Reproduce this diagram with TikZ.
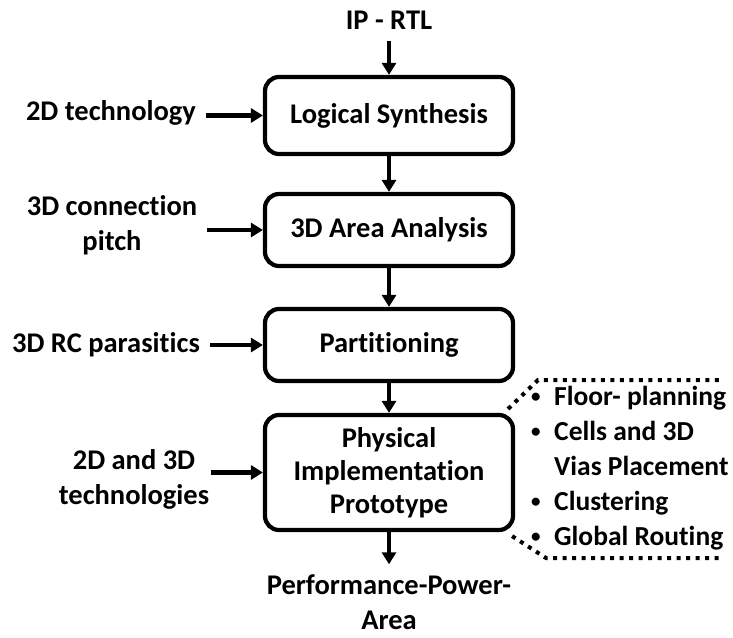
\documentclass[tikz,border=0pt]{standalone}
\usepackage{fontspec}
\setmainfont[Ligatures=NoCommon]{Carlito}
\usetikzlibrary{arrows.meta,calc}
\newcommand{\smallbul}{\makebox[25pt][l]{\hspace*{2pt}\raisebox{3pt}{\fontsize{19}{19}\selectfont\textbullet}}}
\begin{document}
\begin{tikzpicture}[x=1pt,y=-1pt,
  every node/.style={font=\bfseries\fontsize{28.5}{35}\selectfont, inner sep=0pt},
  stepbox/.style={draw, line width=4.2pt, rounded corners=14pt, minimum width=248pt, align=center},
  arr/.style={line width=4.2pt, -{Triangle[length=12pt,width=14pt]}},
  dots/.style={line width=4pt, dash pattern=on 4pt off 5.5pt}]
\useasboundingbox (0,0) rectangle (733,637);
% main boxes
\node[stepbox, minimum height=77pt] (b1) at (389,115.5) {Logical Synthesis};
\node[stepbox, minimum height=72pt] (b2) at (389,230) {3D Area Analysis};
\node[stepbox, minimum height=72pt] (b3) at (389,345) {Partitioning};
\node[stepbox, minimum height=115pt, font=\bfseries\fontsize{28.5}{33}\selectfont] (b4) at (389,472.5) {Physical\\Implementation\\Prototype};
% top / bottom
\node (ip) at (389,20) {IP - RTL};
\node[align=center] (out) at (389,602) {Performance-Power-\\Area};
% left inputs
\node[align=center] (l1) at (111,113) {2D technology};
\node[align=center] (l2) at (112,225.5) {3D connection\\pitch};
\node[align=center] (l3) at (106,345) {3D RC parasitics};
\node[align=center] (l4) at (134,479.5) {2D and 3D\\technologies};
% right list
\node[anchor=west, align=left, font=\bfseries\fontsize{27.5}{35}\selectfont] (list) at (529,468.5) {%
  \smallbul Floor- planning\\
  \smallbul Cells and 3D\\
  \hspace*{25pt}Vias Placement\\
  \smallbul Clustering\\
  \smallbul Global Routing};
% flow arrows
\draw[arr, shorten <=12pt] (ip) -- (b1);
\draw[arr] (b1) -- (b2);
\draw[arr] (b2) -- (b3);
\draw[arr] (b3) -- (b4);
\draw[arr, shorten >=10pt] (b4) -- (out);
% input arrows
\draw[arr] ([xshift=10pt]l1.east |- b1.west) -- (b1.west);
\draw[arr] ([xshift=10pt]l2.east |- b2.west) -- (b2.west);
\draw[arr] ([xshift=10pt]l3.east |- b3.west) -- (b3.west);
\draw[arr] ([xshift=2pt]l4.east |- b4.west) -- (b4.west);
% dotted bracket
\coordinate (t1) at (538,380);
\coordinate (t2) at (723,380);
\coordinate (u1) at (546,558);
\coordinate (u2) at (723,558);
\draw[dots] ($(b4.north east)+(-7,-4)$) -- (t1) -- (t2);
\draw[dots] ($(b4.south east)+(-3,4)$) -- (u1) -- (u2);
\end{tikzpicture}
\end{document}
